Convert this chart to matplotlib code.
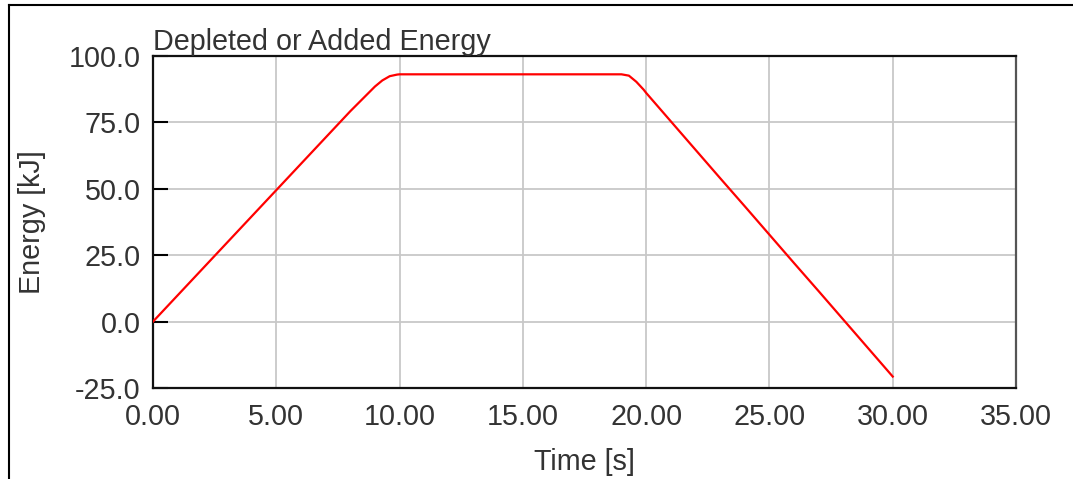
"""
Depleted or added energy over time
"""

# IMPORTs
import matplotlib
matplotlib.use('Agg')
import matplotlib.pyplot as plt
from matplotlib.lines import Line2D

# DATA
time_s = [0.0, 1.0, 2.0, 3.0, 4.0, 5.0, 6.0, 7.0, 8.0, 9.0, 9.3, 9.6, 9.9,
          10.0, 12.0, 14.0, 16.0, 18.0, 19.0, 19.3, 19.6, 19.9,
          20.0, 21.0, 22.0, 23.0, 24.0, 25.0, 26.0, 27.0, 28.0, 29.0, 30.0]
energy_kj = [0.0, 9.9, 19.8, 29.7, 39.6, 49.5, 59.4, 69.3, 79.2, 88.5, 90.8, 92.4, 93.0,
             93.1, 93.1, 93.1, 93.1, 93.1, 93.1, 92.6, 90.3, 87.3,
             86.1, 75.4, 64.7, 54.0, 43.4, 32.7, 22.0, 11.4, 0.7, -10.0, -20.7]

x_ticks = [0, 5, 10, 15, 20, 25, 30, 35]
y_ticks = [-25, 0, 25, 50, 75, 100]

# STYLE
plt.rcParams['font.family'] = ['Liberation Sans', 'DejaVu Sans']
plt.rcParams['font.size'] = 20.7
text_col = '#333333'

fig = plt.figure(figsize=(10.73, 4.79), dpi=100)
ax = fig.add_axes([0.1426, 0.19, 0.8043, 0.6931])

ax.plot(time_s, energy_kj, color='#ff0000', linewidth=1.6, zorder=3)

ax.set_xlim(0, 35)
ax.set_ylim(-25, 100)
ax.set_xticks(x_ticks)
ax.set_yticks(y_ticks)
ax.set_xticklabels([f'{t:.2f}' for t in x_ticks])
ax.set_yticklabels([f'{v:.1f}' for v in y_ticks])

ax.grid(True, color='#c8c8c8', linewidth=1.3)
ax.tick_params(axis='x', length=0, pad=11, labelcolor=text_col)
ax.tick_params(axis='y', direction='in', length=11, width=1.5, pad=9,
               colors='black', labelcolor=text_col)

for side in ['left', 'bottom', 'top']:
    ax.spines[side].set_color('#111111')
    ax.spines[side].set_linewidth(1.6)
ax.spines['right'].set_color('#555555')
ax.spines['right'].set_linewidth(1.6)

ax.set_title('Depleted or Added Energy', loc='left', pad=3, fontsize=20.7, color=text_col)
ax.set_xlabel('Time [s]', labelpad=12, color=text_col)
ax.set_ylabel('Energy [kJ]', labelpad=16, color=text_col)

# OUTER border (top and left only, as in the reference)
top_y = 1 - 5 / 479
left_x = 9 / 1073
fig.add_artist(Line2D([left_x, 1], [top_y, top_y], color='black', linewidth=1.5))
fig.add_artist(Line2D([left_x, left_x], [0, top_y], color='black', linewidth=1.5))

fig.savefig('out.png', dpi=100)
